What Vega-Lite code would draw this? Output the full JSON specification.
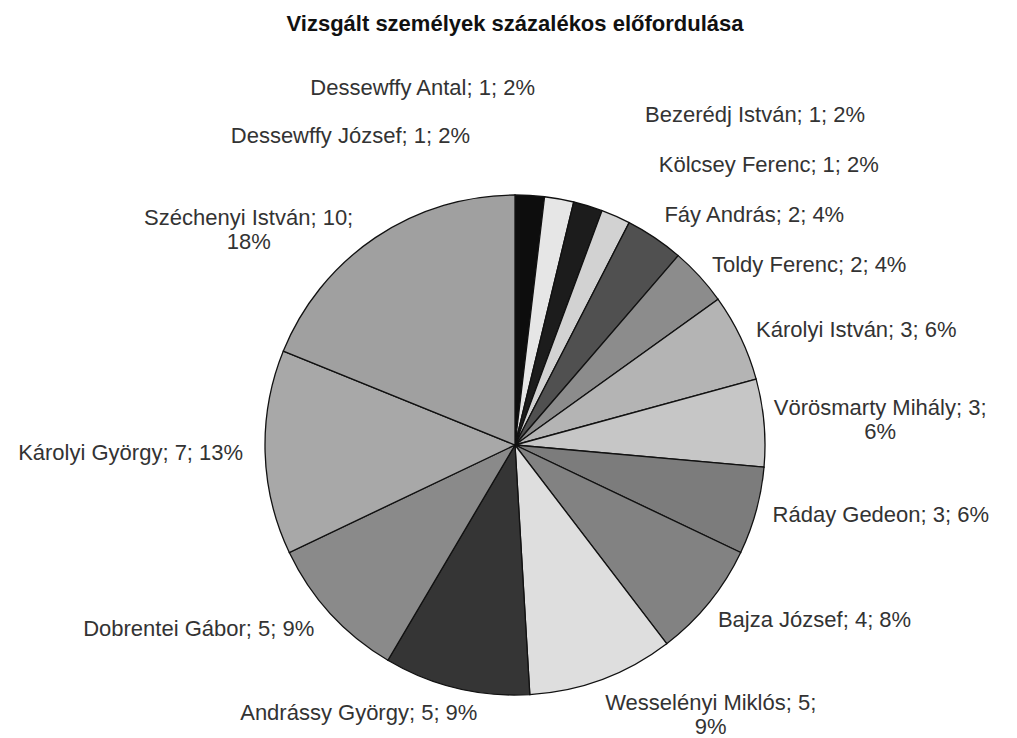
{
  "$schema": "https://vega.github.io/schema/vega-lite/v6.json",
  "width": 500,
  "height": 500,
  "autosize": {"type": "none"},
  "padding": {"left": 265, "top": 195, "right": 252, "bottom": 43},
  "background": "white",
  "config": {"view": {"stroke": null}},
  "title": {
    "text": "Vizsgált személyek százalékos előfordulása",
    "font": "Liberation Sans",
    "fontSize": 22,
    "fontWeight": "bold",
    "color": "#111111",
    "anchor": "middle",
    "frame": "group",
    "offset": 31
  },
  "data": {
    "values": [
      {"idx": 1, "name": "Dessewffy József", "value": 1, "label": "Dessewffy József; 1; 2%"},
      {"idx": 2, "name": "Dessewffy Antal", "value": 1, "label": "Dessewffy Antal; 1; 2%"},
      {"idx": 3, "name": "Bezerédj István", "value": 1, "label": "Bezerédj István; 1; 2%"},
      {"idx": 4, "name": "Kölcsey Ferenc", "value": 1, "label": "Kölcsey Ferenc; 1; 2%"},
      {"idx": 5, "name": "Fáy András", "value": 2, "label": "Fáy András; 2; 4%"},
      {"idx": 6, "name": "Toldy Ferenc", "value": 2, "label": "Toldy Ferenc; 2; 4%"},
      {"idx": 7, "name": "Károlyi István", "value": 3, "label": "Károlyi István; 3; 6%"},
      {"idx": 8, "name": "Vörösmarty Mihály", "value": 3, "label": "Vörösmarty Mihály; 3;\n6%"},
      {"idx": 9, "name": "Ráday Gedeon", "value": 3, "label": "Ráday Gedeon; 3; 6%"},
      {"idx": 10, "name": "Bajza József", "value": 4, "label": "Bajza József; 4; 8%"},
      {"idx": 11, "name": "Wesselényi Miklós", "value": 5, "label": "Wesselényi Miklós; 5;\n9%"},
      {"idx": 12, "name": "Andrássy György", "value": 5, "label": "Andrássy György; 5; 9%"},
      {"idx": 13, "name": "Dobrentei Gábor", "value": 5, "label": "Dobrentei Gábor; 5; 9%"},
      {"idx": 14, "name": "Károlyi György", "value": 7, "label": "Károlyi György; 7; 13%"},
      {"idx": 15, "name": "Széchenyi István", "value": 10, "label": "Széchenyi István; 10;\n18%"}
    ]
  },
  "encoding": {
    "theta": {"field": "value", "type": "quantitative", "stack": true},
    "order": {"field": "idx", "type": "quantitative"}
  },
  "layer": [
    {
      "mark": {"type": "arc", "outerRadius": 250, "stroke": "#111111", "strokeWidth": 1.3},
      "encoding": {
        "color": {
          "field": "name",
          "type": "nominal",
          "legend": null,
          "scale": {
            "domain": ["Dessewffy József", "Dessewffy Antal", "Bezerédj István", "Kölcsey Ferenc", "Fáy András", "Toldy Ferenc", "Károlyi István", "Vörösmarty Mihály", "Ráday Gedeon", "Bajza József", "Wesselényi Miklós", "Andrássy György", "Dobrentei Gábor", "Károlyi György", "Széchenyi István"],
            "range": ["#0d0d0d", "#e6e6e6", "#1c1c1c", "#d2d2d2", "#505050", "#8c8c8c", "#b4b4b4", "#c6c6c6", "#7c7c7c", "#828282", "#dedede", "#353535", "#8a8a8a", "#a8a8a8", "#a0a0a0"]
          }
        }
      }
    },
    {
      "mark": {"type": "text", "radius": 267, "align": "left", "baseline": "middle", "font": "Liberation Sans", "fontSize": 22, "color": "#333333"},
      "encoding": {
        "text": {"condition": {"test": "indexof(['Toldy Ferenc','Károlyi István','Ráday Gedeon'], datum.name) >= 0", "field": "label"}, "value": ""}
      }
    },
    {
      "mark": {"type": "text", "radius": 274, "thetaOffset": -0.016, "align": "left", "baseline": "middle", "font": "Liberation Sans", "fontSize": 22, "color": "#333333"},
      "encoding": {
        "text": {"condition": {"test": "datum.name === 'Fáy András'", "field": "label"}, "value": ""}
      }
    },
    {
      "mark": {"type": "text", "radius": 268, "thetaOffset": 0.03, "align": "left", "baseline": "middle", "font": "Liberation Sans", "fontSize": 22, "color": "#333333"},
      "encoding": {
        "text": {"condition": {"test": "datum.name === 'Bajza József'", "field": "label"}, "value": ""}
      }
    },
    {
      "mark": {"type": "text", "radius": 272, "align": "right", "baseline": "middle", "font": "Liberation Sans", "fontSize": 22, "color": "#333333"},
      "encoding": {
        "text": {"condition": {"test": "indexof(['Dobrentei Gábor','Károlyi György'], datum.name) >= 0", "field": "label"}, "value": ""}
      }
    },
    {
      "mark": {"type": "text", "radius": 271, "thetaOffset": -0.098, "align": "right", "baseline": "middle", "font": "Liberation Sans", "fontSize": 22, "color": "#333333"},
      "encoding": {
        "text": {"condition": {"test": "datum.name === 'Andrássy György'", "field": "label"}, "value": ""}
      }
    },
    {
      "mark": {"type": "text", "radius": 358, "thetaOffset": -0.122, "align": "right", "baseline": "middle", "font": "Liberation Sans", "fontSize": 22, "color": "#333333"},
      "encoding": {
        "text": {"condition": {"test": "datum.name === 'Dessewffy Antal'", "field": "label"}, "value": ""}
      }
    },
    {
      "mark": {"type": "text", "radius": 312, "thetaOffset": -0.204, "align": "right", "baseline": "middle", "font": "Liberation Sans", "fontSize": 22, "color": "#333333"},
      "encoding": {
        "text": {"condition": {"test": "datum.name === 'Dessewffy József'", "field": "label"}, "value": ""}
      }
    },
    {
      "mark": {"type": "text", "radius": 355, "thetaOffset": 0.0785, "align": "left", "baseline": "middle", "font": "Liberation Sans", "fontSize": 22, "color": "#333333"},
      "encoding": {
        "text": {"condition": {"test": "datum.name === 'Bezerédj István'", "field": "label"}, "value": ""}
      }
    },
    {
      "mark": {"type": "text", "radius": 315, "thetaOffset": 0.059, "align": "left", "baseline": "middle", "font": "Liberation Sans", "fontSize": 22, "color": "#333333"},
      "encoding": {
        "text": {"condition": {"test": "datum.name === 'Kölcsey Ferenc'", "field": "label"}, "value": ""}
      }
    },
    {
      "mark": {"type": "text", "radius": 367, "thetaOffset": -0.012, "align": "center", "baseline": "middle", "lineBreak": "\n", "lineHeight": 24, "font": "Liberation Sans", "fontSize": 22, "color": "#333333"},
      "encoding": {
        "text": {"condition": {"test": "datum.name === 'Vörösmarty Mihály'", "field": "label"}, "value": ""}
      }
    },
    {
      "mark": {"type": "text", "radius": 324, "thetaOffset": -0.293, "align": "center", "baseline": "middle", "lineBreak": "\n", "lineHeight": 24, "font": "Liberation Sans", "fontSize": 22, "color": "#333333"},
      "encoding": {
        "text": {"condition": {"test": "datum.name === 'Wesselényi Miklós'", "field": "label"}, "value": ""}
      }
    },
    {
      "mark": {"type": "text", "radius": 350, "thetaOffset": -0.272, "align": "center", "baseline": "middle", "lineBreak": "\n", "lineHeight": 24, "font": "Liberation Sans", "fontSize": 22, "color": "#333333"},
      "encoding": {
        "text": {"condition": {"test": "datum.name === 'Széchenyi István'", "field": "label"}, "value": ""}
      }
    }
  ]
}
